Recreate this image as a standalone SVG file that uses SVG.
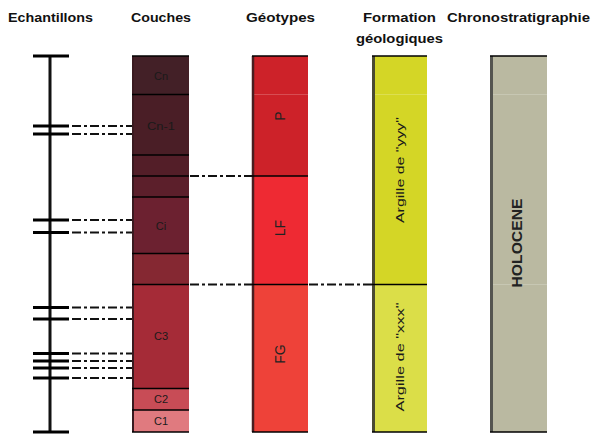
<svg xmlns="http://www.w3.org/2000/svg" width="593" height="434" viewBox="0 0 593 434">
<style>
.h{font-family:"Liberation Sans",Arial,sans-serif;font-weight:bold;font-size:13px;fill:#111}
.l{font-family:"Liberation Sans",Arial,sans-serif;font-size:11px;fill:#1a1a1a;text-anchor:middle}
.g{font-family:"Liberation Sans",Arial,sans-serif;font-size:14px;fill:#222;text-anchor:middle}
.bd{stroke:#000;stroke-width:1.5}
.tk{stroke:#000;stroke-width:3}
.dd{stroke:#111;stroke-width:2;stroke-dasharray:9 3 3 3;fill:none}
.faint{stroke:#fff;stroke-opacity:0.2;stroke-width:1}
</style>
<rect width="593" height="434" fill="#fff"/>
<g id="headers">
<text class="h" x="8" y="22" textLength="85" lengthAdjust="spacingAndGlyphs">Echantillons</text>
<text class="h" x="131" y="22" textLength="60" lengthAdjust="spacingAndGlyphs">Couches</text>
<text class="h" x="246" y="22" textLength="69" lengthAdjust="spacingAndGlyphs">Géotypes</text>
<text class="h" x="363" y="22" textLength="73" lengthAdjust="spacingAndGlyphs">Formation</text>
<text class="h" x="356" y="43" textLength="87" lengthAdjust="spacingAndGlyphs">géologiques</text>
<text class="h" x="447" y="22" textLength="143" lengthAdjust="spacingAndGlyphs">Chronostratigraphie</text>
</g>
<g id="echantillons">
<line x1="50" y1="56" x2="50" y2="432" stroke="#111" stroke-width="3"/>
<line class="tk" x1="33" y1="56" x2="69" y2="56"/>
<line class="tk" x1="33" y1="432" x2="69" y2="432"/>
<line class="tk" x1="33" y1="126" x2="69" y2="126"/>
<line class="tk" x1="33" y1="134" x2="69" y2="134"/>
<line class="tk" x1="33" y1="220" x2="69" y2="220"/>
<line class="tk" x1="33" y1="232.5" x2="69" y2="232.5"/>
<line class="tk" x1="33" y1="307.5" x2="69" y2="307.5"/>
<line class="tk" x1="33" y1="319" x2="69" y2="319"/>
<line class="tk" x1="33" y1="353.5" x2="69" y2="353.5"/>
<line class="tk" x1="33" y1="361" x2="69" y2="361"/>
<line class="tk" x1="33" y1="368" x2="69" y2="368"/>
<line class="tk" x1="33" y1="378" x2="69" y2="378"/>
</g>
<g id="couches">
<rect x="132" y="56" width="57" height="38.5" fill="#432027"/>
<rect x="132" y="94.5" width="57" height="60.5" fill="#4a1e26"/>
<rect x="132" y="155" width="57" height="21" fill="#531e28"/>
<rect x="132" y="176" width="57" height="21" fill="#5c1f2b"/>
<rect x="132" y="197" width="57" height="56.5" fill="#6c2130"/>
<rect x="132" y="253.5" width="57" height="31" fill="#852832"/>
<rect x="132" y="284.5" width="57" height="104" fill="#a52b37"/>
<rect x="132" y="388.5" width="57" height="21.5" fill="#c84c56"/>
<rect x="132" y="410" width="57" height="22" fill="#e07a7f"/>
<line x1="133" y1="56" x2="133" y2="432" stroke="#3a1a20" stroke-width="2"/>
<line class="bd" x1="132" y1="56" x2="189" y2="56" stroke-width="2"/>
<line class="bd" x1="132" y1="94.5" x2="189" y2="94.5"/>
<line class="bd" x1="132" y1="155" x2="189" y2="155"/>
<line class="bd" x1="132" y1="176" x2="189" y2="176"/>
<line class="bd" x1="132" y1="197" x2="189" y2="197"/>
<line class="bd" x1="132" y1="253.5" x2="189" y2="253.5"/>
<line class="bd" x1="132" y1="284.5" x2="189" y2="284.5"/>
<line class="bd" x1="132" y1="388.5" x2="189" y2="388.5"/>
<line class="bd" x1="132" y1="410" x2="189" y2="410"/>
<line class="bd" x1="132" y1="432" x2="189" y2="432" stroke-width="2"/>
<text class="l" x="161" y="80">Cn</text>
<text class="l" x="161" y="130" textLength="28" lengthAdjust="spacingAndGlyphs">Cn-1</text>
<text class="l" x="161" y="230">Ci</text>
<text class="l" x="161" y="340">C3</text>
<text class="l" x="161" y="403">C2</text>
<text class="l" x="161" y="425">C1</text>
</g>
<g id="geotypes">
<rect x="252" y="56" width="56" height="120" fill="#cd2229"/>
<rect x="252" y="176" width="56" height="108.5" fill="#ee2a33"/>
<rect x="252" y="284.5" width="56" height="147.5" fill="#ee4239"/>
<line class="faint" x1="254" y1="94.5" x2="308" y2="94.5"/>
<line x1="253" y1="56" x2="253" y2="432" stroke="#4a1e20" stroke-width="2.5"/>
<line class="bd" x1="252" y1="56" x2="308" y2="56" stroke-width="2"/>
<line class="bd" x1="252" y1="176" x2="308" y2="176"/>
<line class="bd" x1="252" y1="284.5" x2="308" y2="284.5"/>
<line class="bd" x1="252" y1="432" x2="308" y2="432" stroke-width="3"/>
<text class="g" transform="translate(285 116) rotate(-90)">P</text>
<text class="g" transform="translate(285 228) rotate(-90)">LF</text>
<text class="g" transform="translate(285 354) rotate(-90)">FG</text>
</g>
<g id="formation">
<rect x="372" y="56" width="55" height="228.5" fill="#d4d626"/>
<rect x="372" y="284.5" width="55" height="147.5" fill="#dbde48"/>
<line class="faint" x1="374" y1="94.5" x2="427" y2="94.5"/>
<line x1="373.5" y1="56" x2="373.5" y2="432" stroke="#4a4a32" stroke-width="3"/>
<line class="bd" x1="372" y1="56" x2="427" y2="56" stroke-width="2"/>
<line class="bd" x1="372" y1="284.5" x2="427" y2="284.5"/>
<line class="bd" x1="372" y1="432" x2="427" y2="432" stroke-width="3"/>
<text class="l" font-size="13" textLength="106" lengthAdjust="spacingAndGlyphs" transform="translate(404 170) rotate(-90)">Argille de "yyy"</text>
<text class="l" font-size="13" textLength="109" lengthAdjust="spacingAndGlyphs" transform="translate(404 357) rotate(-90)">Argille de "xxx"</text>
</g>
<g id="chrono">
<rect x="490" y="56" width="57" height="376" fill="#bab9a1"/>
<line class="faint" x1="492" y1="94.5" x2="547" y2="94.5"/>
<line class="faint" x1="492" y1="284.5" x2="547" y2="284.5"/>
<line x1="491.5" y1="56" x2="491.5" y2="432" stroke="#555550" stroke-width="3"/>
<line class="bd" x1="490" y1="56" x2="547" y2="56" stroke-width="2"/>
<line class="bd" x1="490" y1="432" x2="547" y2="432" stroke-width="3"/>
<text class="g" font-weight="bold" textLength="89" lengthAdjust="spacingAndGlyphs" transform="translate(522 243) rotate(-90)">HOLOCENE</text>
</g>
<g id="connectors">
<line class="dd" x1="72" y1="126" x2="132" y2="126"/>
<line class="dd" x1="72" y1="134" x2="132" y2="134"/>
<line class="dd" x1="72" y1="220" x2="132" y2="220"/>
<line class="dd" x1="72" y1="232.5" x2="132" y2="232.5"/>
<line class="dd" x1="72" y1="307.5" x2="132" y2="307.5"/>
<line class="dd" x1="72" y1="319" x2="132" y2="319"/>
<line class="dd" x1="72" y1="353.5" x2="132" y2="353.5"/>
<line class="dd" x1="72" y1="361" x2="132" y2="361"/>
<line class="dd" x1="72" y1="368" x2="132" y2="368"/>
<line class="dd" x1="72" y1="378" x2="132" y2="378"/>
<line class="dd" x1="190" y1="176" x2="252" y2="176"/>
<line class="dd" x1="190" y1="284.5" x2="252" y2="284.5"/>
<line class="dd" x1="309" y1="284.5" x2="372" y2="284.5"/>
</g>
</svg>
